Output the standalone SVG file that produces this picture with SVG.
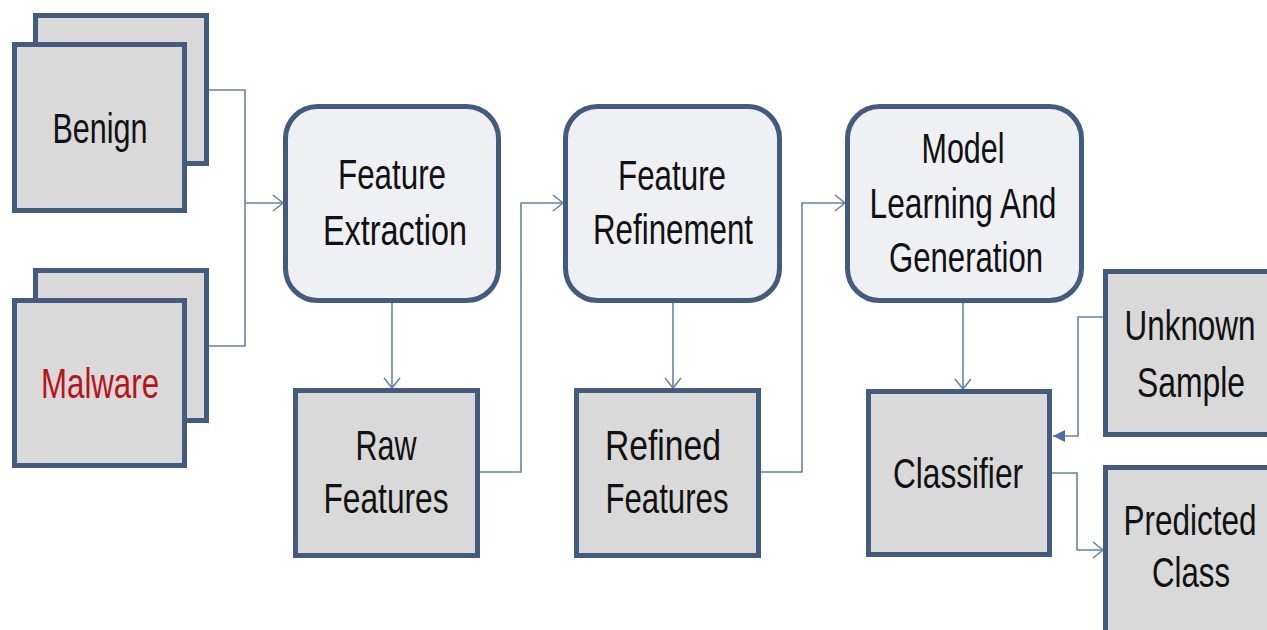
<svg xmlns="http://www.w3.org/2000/svg" width="1267" height="630" viewBox="0 0 1267 630">
<style>
.box{fill:#d9d9d9;stroke:#435b7d;stroke-width:5}
.rbox{fill:#eff0f4;stroke:#435b7d;stroke-width:5}
.t{font-family:"Liberation Sans",Arial,sans-serif;font-size:42px;fill:#111;text-anchor:middle}
.red{fill:#b8141c}
.c{fill:none;stroke:#6784a5;stroke-width:1.6}
</style>
<defs>
<marker id="open" markerUnits="userSpaceOnUse" markerWidth="14" markerHeight="18" refX="11" refY="9" orient="auto" viewBox="0 0 14 18">
<path d="M1,1 L11,9 L1,17" fill="none" stroke="#6784a5" stroke-width="1.6"/>
</marker>
<marker id="filled" markerUnits="userSpaceOnUse" markerWidth="14" markerHeight="14" refX="12" refY="7" orient="auto" viewBox="0 0 14 14">
<path d="M0,1 L12,7 L0,13 Z" fill="#4b6fa3"/>
</marker>
</defs>
<g id="connectors">
<path class="c" d="M209,90 H245 V346 H209"/>
<path class="c" d="M245,203 H283" marker-end="url(#open)"/>
<path class="c" d="M392,303 V388" marker-end="url(#open)"/>
<path class="c" d="M480,472 H521 V203 H563" marker-end="url(#open)"/>
<path class="c" d="M673,303 V388" marker-end="url(#open)"/>
<path class="c" d="M761,472 H802 V203 H845" marker-end="url(#open)"/>
<path class="c" d="M963,303 V389" marker-end="url(#open)"/>
<path class="c" d="M1103,317 H1078 V436 H1053" marker-end="url(#filled)"/>
<path class="c" d="M1052,473 H1077 V550 H1103" marker-end="url(#open)"/>
</g>
<g id="benign">
<rect class="box" x="35.5" y="15.5" width="171" height="148"/>
<rect class="box" x="14.5" y="44.5" width="170" height="166"/>
<text class="t" x="100" y="143" textLength="95" lengthAdjust="spacingAndGlyphs">Benign</text>
</g>
<g id="malware">
<rect class="box" x="35.5" y="270.5" width="171" height="150"/>
<rect class="box" x="14.5" y="300.5" width="170" height="165"/>
<text class="t red" x="100" y="398" textLength="118" lengthAdjust="spacingAndGlyphs">Malware</text>
</g>
<g id="feature-extraction">
<rect class="rbox" x="285.5" y="106.5" width="213" height="194" rx="32"/>
<text class="t" x="392" y="189" textLength="108" lengthAdjust="spacingAndGlyphs">Feature</text>
<text class="t" x="395" y="245" textLength="144" lengthAdjust="spacingAndGlyphs">Extraction</text>
</g>
<g id="raw-features">
<rect class="box" x="295.5" y="390.5" width="182" height="165"/>
<text class="t" x="386" y="460" textLength="61" lengthAdjust="spacingAndGlyphs">Raw</text>
<text class="t" x="386" y="513" textLength="125" lengthAdjust="spacingAndGlyphs">Features</text>
</g>
<g id="feature-refinement">
<rect class="rbox" x="565.5" y="106.5" width="214" height="194" rx="32"/>
<text class="t" x="672" y="190" textLength="108" lengthAdjust="spacingAndGlyphs">Feature</text>
<text class="t" x="673" y="244" textLength="160" lengthAdjust="spacingAndGlyphs">Refinement</text>
</g>
<g id="refined-features">
<rect class="box" x="576.5" y="390.5" width="182" height="165"/>
<text class="t" x="663" y="460" textLength="116" lengthAdjust="spacingAndGlyphs">Refined</text>
<text class="t" x="667" y="513" textLength="123" lengthAdjust="spacingAndGlyphs">Features</text>
</g>
<g id="model">
<rect class="rbox" x="847.5" y="106.5" width="234" height="194" rx="32"/>
<text class="t" x="963" y="163" textLength="83" lengthAdjust="spacingAndGlyphs">Model</text>
<text class="t" x="963" y="218" textLength="187" lengthAdjust="spacingAndGlyphs">Learning And</text>
<text class="t" x="966" y="272" textLength="154" lengthAdjust="spacingAndGlyphs">Generation</text>
</g>
<g id="classifier">
<rect class="box" x="868.5" y="391.5" width="181" height="163"/>
<text class="t" x="958" y="488" textLength="130" lengthAdjust="spacingAndGlyphs">Classifier</text>
</g>
<g id="unknown-sample">
<rect class="box" x="1105.5" y="271.5" width="170" height="163"/>
<text class="t" x="1190" y="340" textLength="131" lengthAdjust="spacingAndGlyphs">Unknown</text>
<text class="t" x="1191" y="397" textLength="108" lengthAdjust="spacingAndGlyphs">Sample</text>
</g>
<g id="predicted-class">
<rect class="box" x="1105.5" y="467.5" width="170" height="172"/>
<text class="t" x="1190" y="535" textLength="133" lengthAdjust="spacingAndGlyphs">Predicted</text>
<text class="t" x="1191" y="587" textLength="78" lengthAdjust="spacingAndGlyphs">Class</text>
</g>
</svg>
